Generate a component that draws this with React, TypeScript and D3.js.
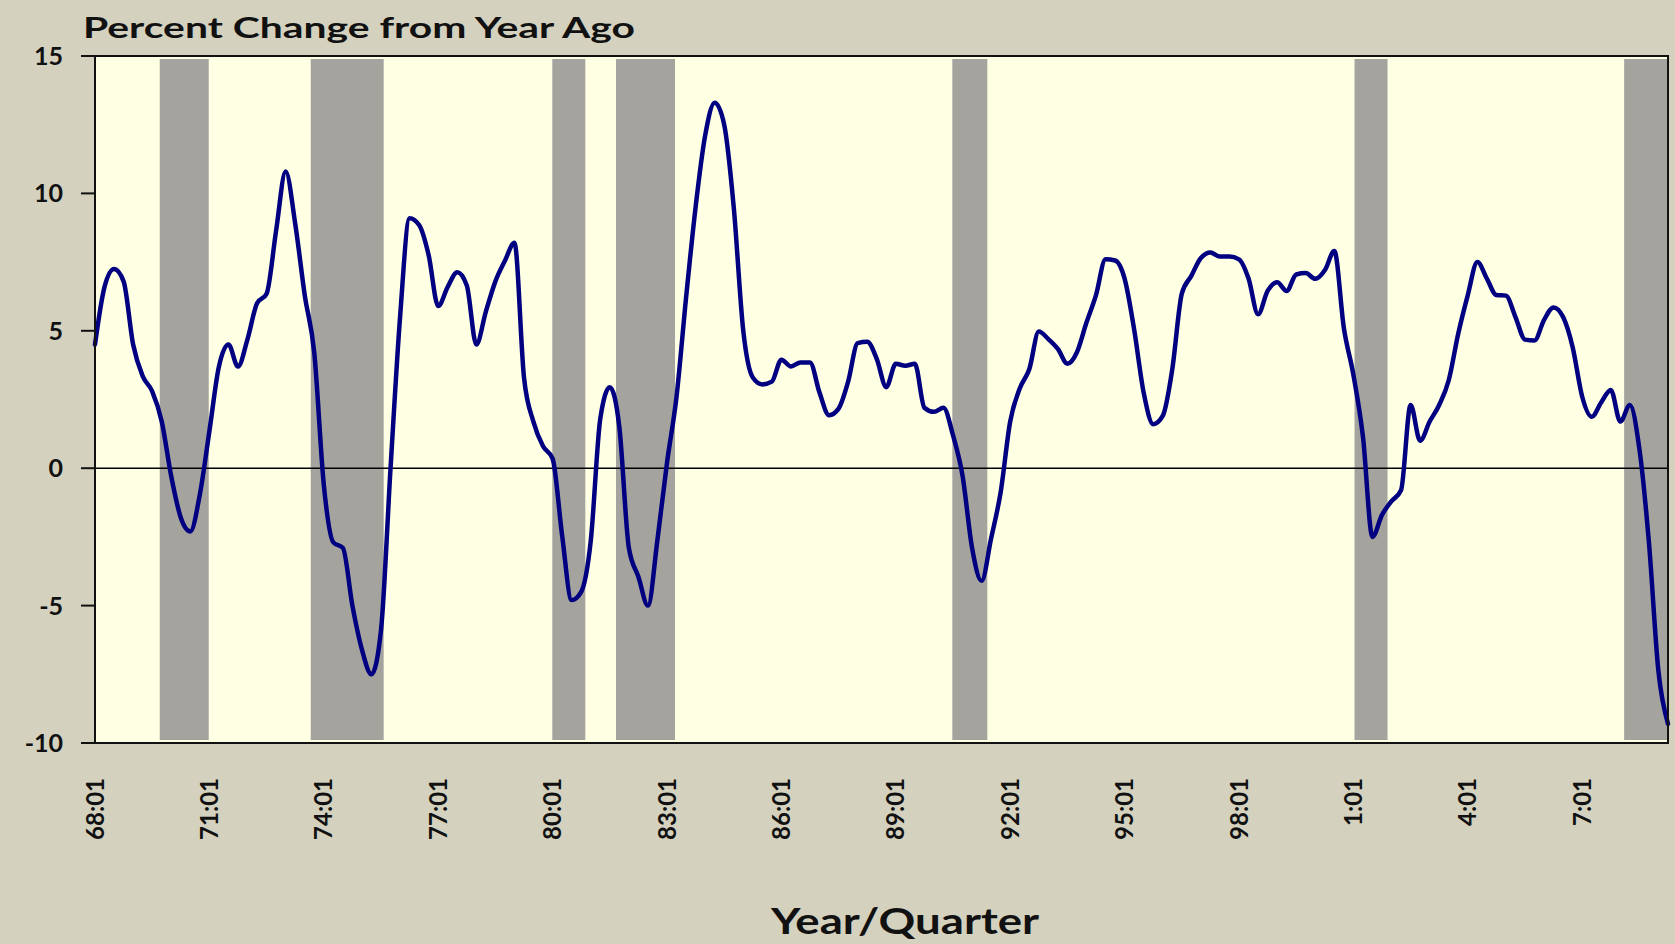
import React from "react";
import * as d3 from "d3";

// Quarterly percent change from year ago, 1968:Q1 .. 2009:Q2
const values: number[] = [
  4.5, 6.6, 7.25, 6.8, 4.5, 3.35, 2.8, 1.7, -0.3, -1.8,
  -2.3, -0.95, 1.35, 3.7, 4.5, 3.7, 4.7, 6.0, 6.35, 8.65,
  10.8, 8.9, 6.3, 4.2, -0.6, -2.7, -2.9, -5.0, -6.6, -7.5,
  -5.9, 0.0, 5.5, 9.1, 8.85, 7.75, 5.9, 6.6, 7.13, 6.65,
  4.5, 5.7, 6.8, 7.55, 8.2, 3.3, 1.68, 0.8, 0.35, -2.45,
  -4.8, -4.5, -2.65, 1.8, 2.95, 1.5, -2.9, -3.95, -5.0, -2.6,
  0.2, 2.6, 6.2, 9.5, 12.1, 13.3, 12.5, 9.5, 5.0, 3.3,
  3.05, 3.15, 3.95, 3.7, 3.85, 3.85, 2.75, 1.93, 2.17, 3.15,
  4.55, 4.6, 3.98, 2.95, 3.8, 3.73, 3.8, 2.2, 2.05, 2.2,
  1.2, -0.27, -2.9, -4.1, -2.55, -0.87, 1.7, 2.9, 3.6, 4.97,
  4.7, 4.34, 3.8, 4.22, 5.3, 6.3, 7.6, 7.56, 6.9, 5.05,
  2.75, 1.6, 1.9, 3.6, 6.35, 7.0, 7.65, 7.85, 7.7, 7.7,
  7.6, 6.9, 5.6, 6.45, 6.77, 6.45, 7.05, 7.1, 6.89, 7.2,
  7.9, 5.1, 3.4, 1.15, -2.5, -1.7, -1.2, -0.8, 2.3, 1.0,
  1.7, 2.3, 3.2, 4.9, 6.3, 7.5, 6.9, 6.3, 6.28, 5.5,
  4.68, 4.65, 5.4, 5.85, 5.5, 4.4, 2.6, 1.87, 2.4, 2.85,
  1.7, 2.3, 0.7, -2.7, -7.4, -9.3,
];

const tickLabels: string[] = [
  "68:01", "71:01", "74:01", "77:01", "80:01", "83:01", "86:01",
  "89:01", "92:01", "95:01", "98:01", "1:01", "4:01", "7:01",
];
const tickEvery = 12; // quarters between labels

const yTicks: number[] = [15, 10, 5, 0, -5, -10];

// Recession shading, in quarter positions from 1968:Q1
const recessionStart: number[] = [6.79, 22.63, 47.97, 54.65, 89.93, 132.12, 160.4];
const recessionEnd: number[] = [11.93, 30.28, 51.43, 60.84, 93.6, 135.58, 165];

const FONT = "Lato, 'DejaVu Sans', sans-serif";

export default function App() {
  const W = 1675;
  const H = 944;
  const left = 95;
  const right = 1668;
  const top = 56;
  const bottom = 743;

  const x = d3.scaleLinear().domain([0, values.length - 1]).range([left, right]);
  const y = d3.scaleLinear().domain([-10, 15]).range([bottom, top]);

  const line = d3
    .line<number>()
    .x((_, i) => x(i))
    .y((d) => y(d))
    .curve(d3.curveMonotoneX);

  return (
    <svg
      width={W}
      height={H}
      style={{ position: "absolute", left: 0, top: 0, display: "block" }}
      fontFamily={FONT}
    >
      <rect x={0} y={0} width={W} height={H} fill="#D4D1BF" />
      <rect x={left} y={y(15)} width={right - left} height={y(-10) - y(15)} fill="#FFFFE4" />

      {recessionStart.map((s, k) => (
        <rect
          key={k}
          x={x(s)}
          y={y(15) + 3}
          width={x(recessionEnd[k]) - x(s)}
          height={y(-10) - y(15) - 6}
          fill="#A4A39E"
        />
      ))}

      <line x1={left} x2={right} y1={y(0)} y2={y(0)} stroke="#000" strokeWidth={1.6} />

      <path
        d={line(values) || ""}
        fill="none"
        stroke="#000080"
        strokeWidth={4.5}
        strokeLinejoin="round"
        strokeLinecap="round"
      />

      <rect
        x={left}
        y={y(15)}
        width={right - left}
        height={y(-10) - y(15)}
        fill="none"
        stroke="#111"
        strokeWidth={2}
      />

      {yTicks.map((t) => (
        <g key={t}>
          <line x1={left - 14} x2={left} y1={y(t)} y2={y(t)} stroke="#111" strokeWidth={2} />
          <text
            x={63}
            y={y(t)}
            dy="0.36em"
            textAnchor="end"
            fontSize={25}
            fontWeight={700}
            fill="#111"
          >
            {t}
          </text>
        </g>
      ))}

      {tickLabels.map((lab, k) => (
        <text
          key={lab}
          transform={`translate(${x(k * tickEvery)},778) rotate(-90)`}
          dy="0.36em"
          textAnchor="end"
          fontSize={24}
          fontWeight={700}
          fill="#111"
        >
          {lab}
        </text>
      ))}

      <text
        x={83}
        y={38}
        fontSize={28}
        fontWeight={700}
        fill="#111"
        textLength={552}
        lengthAdjust="spacingAndGlyphs"
      >
        Percent Change from Year Ago
      </text>

      <text
        x={771}
        y={934}
        fontSize={36}
        fontWeight={700}
        fill="#111"
        textLength={268}
        lengthAdjust="spacingAndGlyphs"
      >
        Year/Quarter
      </text>
    </svg>
  );
}
